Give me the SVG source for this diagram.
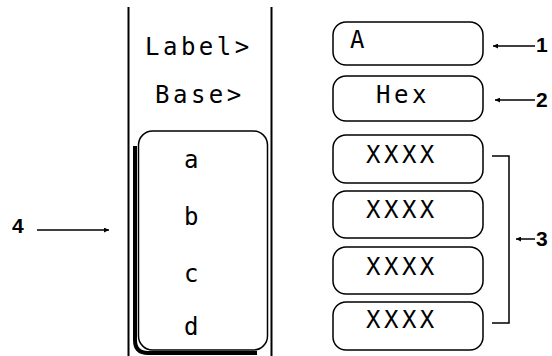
<svg xmlns="http://www.w3.org/2000/svg" width="552" height="356" viewBox="0 0 552 356">
<defs>
<marker id="ah" viewBox="0 0 10 10" refX="10" refY="5" markerWidth="6" markerHeight="5" markerUnits="userSpaceOnUse" orient="auto"><path d="M0,0 L10,5 L0,10 z" fill="#000"/></marker>
</defs>
<style>
.f{fill:#fff;stroke:#000;stroke-width:1.5}
.t{font-family:"DejaVu Sans Mono","Liberation Mono",monospace;font-size:24px;fill:#000;letter-spacing:3.5px}
.n{font-family:"Liberation Sans",Arial,sans-serif;font-size:21px;font-weight:bold;fill:#000}
.c{stroke:#000;stroke-width:1.5;fill:none}
</style>
<rect width="552" height="356" fill="#fff"/>
<g id="panel">
<line x1="128.5" y1="7" x2="128.5" y2="356" stroke="#000" stroke-width="2"/>
<line x1="271.5" y1="7" x2="271.5" y2="356" stroke="#000" stroke-width="2"/>
<text class="t" x="145" y="55">Label&gt;</text>
<text class="t" x="155" y="103">Base&gt;</text>
</g>
<g id="node4">
<path d="M135,146 L135,340 Q135,353 148,353 L257,353" stroke="#000" stroke-width="4" fill="none"/>
<rect class="f" x="138.5" y="131" width="129" height="219" rx="14"/>
<text class="t" x="184" y="168">a</text>
<text class="t" x="184" y="225">b</text>
<text class="t" x="184" y="282">c</text>
<text class="t" x="184" y="335">d</text>
</g>
<g id="nodeA"><rect class="f" x="333" y="22" width="150" height="43" rx="13"/><text class="t" x="350" y="48">A</text></g>
<g id="nodeHex"><rect class="f" x="333" y="76" width="150" height="45" rx="13"/><text class="t" x="376" y="103">Hex</text></g>
<g id="nodeX1"><rect class="f" x="333" y="135" width="150" height="48" rx="13"/><text class="t" x="366" y="163">XXXX</text></g>
<g id="nodeX2"><rect class="f" x="333" y="191" width="150" height="47" rx="13"/><text class="t" x="366" y="218">XXXX</text></g>
<g id="nodeX3"><rect class="f" x="333" y="247" width="150" height="47" rx="13"/><text class="t" x="366" y="275">XXXX</text></g>
<g id="nodeX4"><rect class="f" x="333" y="302" width="150" height="48" rx="13"/><text class="t" x="366" y="328">XXXX</text></g>
<g id="labels">
<text class="n" x="536" y="52">1</text>
<text class="n" x="536" y="107">2</text>
<text class="n" x="536" y="246">3</text>
<text class="n" x="12" y="233">4</text>
</g>
<g id="connectors">
<line class="c" x1="535" y1="46" x2="493" y2="46" marker-end="url(#ah)"/>
<line class="c" x1="535" y1="100" x2="495" y2="100" marker-end="url(#ah)"/>
<line class="c" x1="535" y1="239" x2="516" y2="239" marker-end="url(#ah)"/>
<line class="c" x1="37" y1="230" x2="109" y2="230" marker-end="url(#ah)"/>
<path class="c" d="M492,156 L509,156 L509,323 L492,323"/>
</g>
</svg>
